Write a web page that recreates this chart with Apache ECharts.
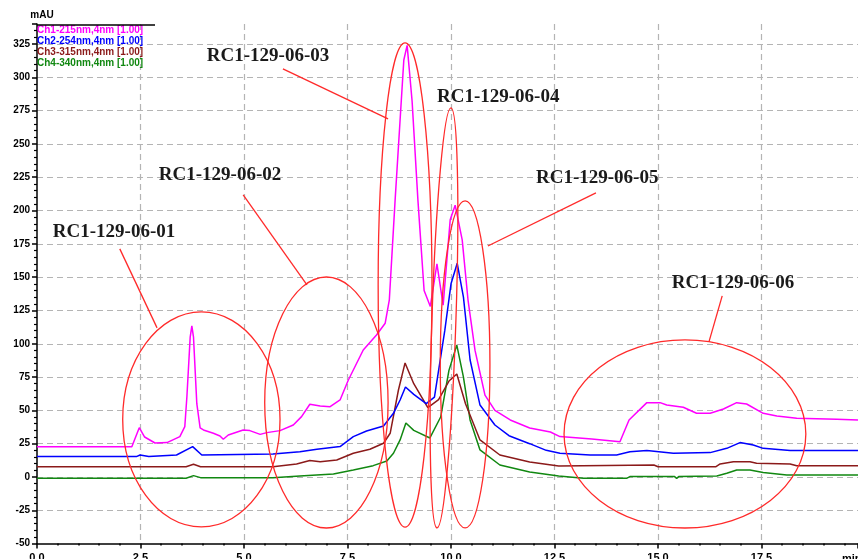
<!DOCTYPE html>
<html>
<head>
<meta charset="utf-8">
<script src="https://cdn.jsdelivr.net/npm/echarts@6/dist/echarts.min.js"></script>
<style>html,body{margin:0;padding:0;background:#fff;}#c{width:858px;height:559px;}</style>
</head>
<body>
<div id="c"></div>
<script>
// Series data: [time (min), absorbance (mAU)]
const seriesNames = ['Ch1-215nm,4nm [1.00]', 'Ch2-254nm,4nm [1.00]', 'Ch3-315nm,4nm [1.00]', 'Ch4-340nm,4nm [1.00]'];
const seriesColors = ['#ff00ff', '#0000ff', '#8b1a1a', '#118811'];

const ch1 = [[0,22.7],[2.29,22.7],[2.47,37],[2.6,30],[2.85,25.5],[3.14,25.8],[3.45,30.3],[3.57,37.8],[3.62,60],[3.7,105],[3.74,113.4],[3.78,105],[3.86,55],[3.94,36.8],[4.02,35.3],[4.26,32.8],[4.42,30.8],[4.5,28.3],[4.62,31.5],[4.98,35.3],[5.14,34.8],[5.39,32],[5.55,33.3],[5.87,34.8],[6.19,39],[6.39,45.3],[6.59,54.6],[6.84,53.3],[7.08,52.8],[7.32,57.8],[7.52,72.8],[7.88,95.3],[8.2,106.6],[8.41,115.4],[8.51,133],[8.65,208],[8.77,268],[8.86,313],[8.94,324],[9.06,282],[9.2,208],[9.35,140],[9.5,128],[9.66,160],[9.81,129],[9.98,193],[10.1,204],[10.27,178],[10.41,133],[10.58,95],[10.82,61.5],[11.06,50],[11.43,42.8],[11.9,36.8],[12.4,33.8],[12.63,30.3],[13.4,28.5],[14.08,26.5],[14.3,42.8],[14.73,55.8],[15.05,55.8],[15.21,54],[15.61,52.3],[15.93,47.8],[16.26,47.8],[16.58,51],[16.9,55.8],[17.14,54.8],[17.54,47.8],[17.87,45.8],[18.35,44],[19.32,43.3],[19.83,42.8]];
const ch2 = [[0,15.3],[2.4,15.3],[2.49,16.5],[2.7,15.3],[3.37,16.5],[3.76,22.8],[3.98,16.5],[5.7,17.3],[6.35,19],[6.76,20.8],[7.32,22.8],[7.64,30.3],[7.96,34.5],[8.37,38.3],[8.61,47.8],[8.77,57.8],[8.9,67.5],[9.1,62],[9.4,55],[9.6,60],[9.85,110],[10.0,145],[10.15,160.4],[10.3,135],[10.46,88],[10.7,54],[11.06,39],[11.4,31],[11.9,25],[12.3,20],[12.63,17.8],[13.36,16.5],[14.0,16.5],[14.32,19],[14.73,19.8],[15.37,17.8],[16.26,18.3],[16.66,21.5],[16.98,25.8],[17.3,24],[17.54,21.5],[18.19,19.8],[19.83,19.8]];
const ch3 = [[0,7.7],[3.6,7.7],[3.78,9.5],[3.95,7.7],[5.7,7.7],[6.27,9.8],[6.59,12.3],[6.84,11.5],[7.24,12.8],[7.64,17.8],[8.04,20.8],[8.37,25.3],[8.53,32.8],[8.73,65.3],[8.89,85.6],[9.1,70],[9.44,52],[9.7,58],[9.95,72],[10.14,77.3],[10.35,55],[10.7,27.8],[11.18,16.5],[11.9,11.3],[12.6,8.3],[14.9,9],[15.0,7.7],[16.4,7.7],[16.5,9.8],[16.82,11.5],[17.22,11.5],[17.38,10.3],[18.19,9.8],[18.35,8.5],[19.83,8.5]];
const ch4 = [[0,-1],[3.6,-1],[3.78,1],[3.95,-0.5],[5.7,-0.5],[6.35,0.8],[7.16,2.3],[7.64,5.3],[8.12,8.5],[8.45,12],[8.61,17.8],[8.77,27.8],[8.91,40.5],[9.1,35],[9.49,29.3],[9.75,45],[9.95,80],[10.14,99],[10.3,75],[10.46,42.8],[10.7,20.3],[11.18,9],[11.9,3.8],[12.6,0.8],[13.2,-1],[14.24,-1],[14.32,0.3],[15.4,0.3],[15.45,-1],[15.5,0.3],[16.42,0.8],[16.66,2.8],[16.9,5.3],[17.22,5.3],[17.54,3.3],[18.11,1.5],[19.83,1.5]];

// Annotations (data coordinates)
const noteLabels = ['RC1-129-06-01','RC1-129-06-02','RC1-129-06-03','RC1-129-06-04','RC1-129-06-05','RC1-129-06-06'];
const notePos = [[1.86,183.9],[4.42,226.7],[5.58,316.1],[11.14,285.3],[13.53,224.5],[16.81,145.6]];
// ellipse: [centerT, centerV, radiusT, radiusV, rotation]
const noteEllipses = [[3.97,43.2,1.90,80.7,0],[6.99,55.9,1.49,94.2,0],[8.89,144.1,0.65,181.7,0],[9.83,119.4,0.29,157.7,-0.033],[10.34,84.5,0.60,122.7,0],[15.65,32.3,2.92,70.6,0]];
// leader lines: [t1,v1,t2,v2]
const noteLines = [[2.0,171.2,2.9,111.9],[4.98,211.7,6.52,144.1],[5.94,306.3,8.48,268.8],[10.89,173.4,13.5,213.2],[16.55,135.9,16.23,101.4]];

const chart = echarts.init(document.getElementById('c'), null, {renderer: 'canvas'});
const allData = [ch1, ch2, ch3, ch4];

const option = {
  animation: false,
  backgroundColor: '#ffffff',
  grid: {left: 37, right: 0, top: 24, bottom: 15.4, containLabel: false, outerBoundsMode: 'none'},
  legend: {
    orient: 'vertical', left: 32, top: 25, itemWidth: 0, itemHeight: 0, itemGap: 1, padding: 0,
    textStyle: {fontFamily: 'Liberation Sans', fontWeight: 'bold', fontSize: 10, lineHeight: 10},
    data: seriesNames.map((n, i) => ({name: n, icon: 'rect', textStyle: {color: seriesColors[i]}})),
    selectedMode: false
  },
  xAxis: {
    type: 'value', min: 0, max: 19.83, interval: 2.5,
    axisLine: {onZero: false, lineStyle: {color: '#000', width: 1.5}},
    axisTick: {show: true, length: 5, lineStyle: {color: '#000', width: 1.5}},
    minorTick: {show: true, splitNumber: 5, length: 2, lineStyle: {color: '#000', width: 1.5}},
    axisLabel: {margin: 9, color: '#000', fontFamily: 'Liberation Sans', fontWeight: 'bold', fontSize: 11, showMaxLabel: false,
      formatter: v => v.toFixed(1)},
    splitLine: {show: true, showMinLine: false, showMaxLine: false, lineStyle: {color: '#b4b4b4', type: [6, 4], width: 1.2}}
  },
  yAxis: {
    type: 'value', min: -50, max: 340, interval: 25,
    name: 'mAU', nameLocation: 'end', nameGap: 4,
    nameTextStyle: {color: '#000', fontFamily: 'Liberation Sans', fontWeight: 'bold', fontSize: 10, padding: [0, 0, 0, 10]},
    axisLine: {onZero: false, lineStyle: {color: '#000', width: 1.5}},
    axisTick: {show: true, length: 5, lineStyle: {color: '#000', width: 1.5}},
    minorTick: {show: true, splitNumber: 5, length: 3, lineStyle: {color: '#000', width: 1.2}},
    axisLabel: {margin: 7, color: '#000', fontFamily: 'Liberation Sans', fontWeight: 'bold', fontSize: 10, showMaxLabel: false},
    splitLine: {show: true, showMinLine: false, showMaxLine: false, lineStyle: {color: '#b4b4b4', type: [6, 4], width: 1.2}}
  },
  series: allData.map((d, i) => ({
    name: seriesNames[i], type: 'line', data: d, showSymbol: false, symbol: 'none',
    color: seriesColors[i],
    lineStyle: {color: seriesColors[i], width: 1.5}, z: 3 - i + 2
  }))
};
chart.setOption(option);

function px(t, v) { return chart.convertToPixel({gridIndex: 0}, [t, v]); }
const graphics = [];
noteEllipses.forEach(e => {
  const c = px(e[0], e[1]);
  const a = px(e[0] + e[2], e[1]);
  const b = px(e[0], e[1] + e[3]);
  graphics.push({type: 'ellipse', x: c[0], y: c[1], rotation: e[4],
    shape: {cx: 0, cy: 0, rx: Math.abs(a[0] - c[0]), ry: Math.abs(c[1] - b[1])},
    style: {fill: null, stroke: '#ff2a2a', lineWidth: 1.3}, z: 10});
});
noteLines.forEach(l => {
  const p1 = px(l[0], l[1]);
  const p2 = px(l[2], l[3]);
  graphics.push({type: 'line', shape: {x1: p1[0], y1: p1[1], x2: p2[0], y2: p2[1]},
    style: {stroke: '#ff2a2a', lineWidth: 1.3}, z: 10});
});
noteLabels.forEach((t, i) => {
  const p = px(notePos[i][0], notePos[i][1]);
  graphics.push({type: 'text', x: p[0], y: p[1], z: 11,
    style: {text: t, fill: '#1a1a1a', font: 'bold 19px "Liberation Serif"', align: 'center', verticalAlign: 'middle'}});
});
graphics.push({type: 'line', shape: {x1: 37, y1: 25, x2: 155, y2: 25}, style: {stroke: '#000', lineWidth: 1.5}, z: 12});
graphics.push({type: 'text', x: 842, y: 553, z: 12,
  style: {text: 'min', fill: '#000', font: 'bold 11px "Liberation Sans"', align: 'left', verticalAlign: 'top'}});
chart.setOption({graphic: graphics});
</script>
</body>
</html>
